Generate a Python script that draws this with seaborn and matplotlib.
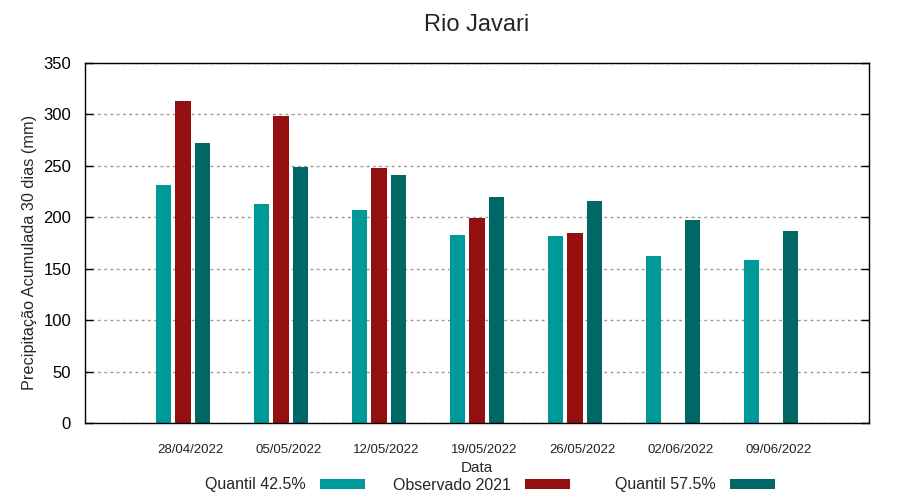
import numpy as np
import pandas as pd
import matplotlib
matplotlib.use("Agg")
import matplotlib.pyplot as plt
import seaborn as sns

# ---- data ----
datas = ["28/04/2022", "05/05/2022", "12/05/2022", "19/05/2022",
         "26/05/2022", "02/06/2022", "09/06/2022"]
quantil_425 = [231, 213, 207, 183, 182, 162, 158]
observado_2021 = [313, 298, 248, 199, 185, np.nan, np.nan]
quantil_575 = [272, 249, 241, 220, 216, 197, 187]
series = ["Quantil 42.5%", "Observado 2021", "Quantil 57.5%"]
colors = ["#009999", "#940f0f", "#006767"]
yticks = [0, 50, 100, 150, 200, 250, 300, 350]

sns.set_theme(style="white")
plt.rcParams['font.family'] = ['Liberation Sans', 'DejaVu Sans']

df = pd.DataFrame({
    "Data": datas * 3,
    "Serie": np.repeat(series, len(datas)),
    "Valor": quantil_425 + observado_2021 + quantil_575,
})

fig = plt.figure(figsize=(9, 5), dpi=100)
ax = fig.add_axes([85 / 900, 77 / 500, 784 / 900, 360 / 500])
sns.barplot(data=df, x="Data", y="Valor", hue="Serie", hue_order=series,
            order=datas, palette=colors, width=0.6, gap=0.2, errorbar=None,
            linewidth=0, saturation=1, ax=ax)

handles, labels = ax.get_legend_handles_labels()
if ax.get_legend() is not None:
    ax.get_legend().remove()

ax.set_xlim(-1, len(datas))
ax.set_ylim(0, 350)
ax.set_yticks(yticks)
ax.set_xticks(np.arange(len(datas)) + 0.077, labels=datas)
ax.set_axisbelow(True)
ax.yaxis.grid(True, linestyle=(0, (2, 2.5)), color='#999999', linewidth=1)
ax.xaxis.grid(False)

for s in ax.spines.values():
    s.set_visible(True)
    s.set_color('black')
    s.set_linewidth(1)

ax.tick_params(axis='y', direction='in', length=6, width=1, left=True,
               right=True, labelsize=12, pad=10, color='black', labelcolor='black')
ax.tick_params(axis='x', length=0, labelsize=9.5, pad=15, labelcolor='#222222')

ax.set_title("Rio Javari", fontsize=17, pad=23)
ax.set_xlabel("Data", fontsize=11, labelpad=4)
ax.set_ylabel("Precipitação Acumulada 30 dias (mm)", fontsize=11.7)
ax.yaxis.set_label_coords(-0.061, 0.475)

# gnuplot-like bottom key: text then sample, three fixed columns
rights = [365, 570, 775]
for h, l, xr in zip(handles, labels, rights):
    fig.legend(handles=[h], labels=[l], loc='center right',
               bbox_to_anchor=(xr / 900, 1 - 485 / 500), frameon=False,
               markerfirst=False, fontsize=11.5, handlelength=2.8,
               handleheight=0.6, handletextpad=0.9, borderpad=0,
               borderaxespad=0)

fig.savefig("out.png", dpi=100)
